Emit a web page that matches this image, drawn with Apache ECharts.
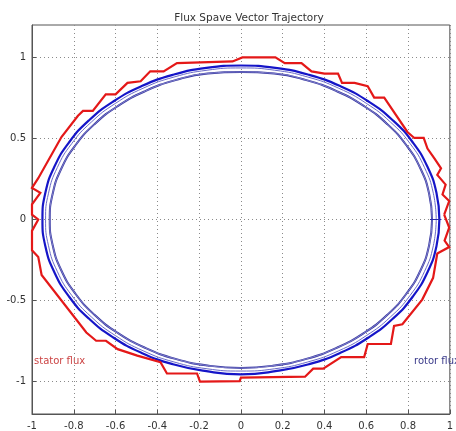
<!DOCTYPE html>
<html>
<head>
<meta charset="utf-8">
<script src="https://cdn.jsdelivr.net/npm/echarts@6/dist/echarts.min.js"></script>
<style>
html,body{margin:0;padding:0;background:#fff;}
#c{width:456px;height:431px;}
</style>
</head>
<body>
<div id="c"></div>
<script>
var titleText = 'Flux Spave Vector Trajectory';
var xTicks = [-1, -0.8, -0.6, -0.4, -0.2, 0, 0.2, 0.4, 0.6, 0.8, 1];
var yTicks = [-1, -0.5, 0, 0.5, 1];
var statorLabel = 'stator flux';
var rotorLabel = 'rotor flux';

var statorX = [0.973,0.997,0.965,0.98,0.94,0.958,0.926,0.893,0.875,0.83,0.797,0.686,0.638,0.607,0.544,0.484,0.465,0.40,0.338,0.29,0.21,0.165,0.007,-0.04,-0.306,-0.37,-0.434,-0.48,-0.543,-0.6,-0.647,-0.709,-0.756,-0.78,-0.859,-0.97,-1.0,-0.96,-1.0,-1.0,-0.97,-1.0,-1.0,-0.97,-0.954,-0.74,-0.693,-0.646,-0.59,-0.543,-0.496,-0.385,-0.354,-0.21,-0.196,-0.006,0.0,0.307,0.346,0.394,0.48,0.59,0.607,0.718,0.733,0.773,0.868,0.92,0.94,0.997,0.975,0.997,0.973];
var statorY = [0.03,0.114,0.154,0.215,0.275,0.316,0.377,0.438,0.503,0.503,0.54,0.752,0.752,0.822,0.843,0.843,0.9,0.9,0.914,0.965,0.965,1.0,1.0,0.975,0.965,0.914,0.914,0.853,0.843,0.772,0.772,0.67,0.67,0.64,0.509,0.255,0.195,0.164,0.093,0.03,0.0,-0.07,-0.19,-0.231,-0.342,-0.697,-0.748,-0.748,-0.80,-0.82,-0.84,-0.88,-0.95,-0.95,-1.0,-0.997,-0.975,-0.97,-0.92,-0.92,-0.849,-0.849,-0.768,-0.768,-0.657,-0.646,-0.494,-0.36,-0.21,-0.17,-0.13,-0.05,0.03];

var rotorOuterX = [0.95,0.936,0.893,0.823,0.728,0.611,0.475,0.325,0.165,0,-0.165,-0.325,-0.475,-0.611,-0.728,-0.823,-0.893,-0.936,-0.95,-0.936,-0.893,-0.823,-0.728,-0.611,-0.475,-0.325,-0.165,0,0.165,0.325,0.475,0.611,0.728,0.823,0.893,0.936,0.95];
var rotorOuterY = [0,0.165,0.325,0.475,0.611,0.728,0.823,0.893,0.936,0.95,0.936,0.893,0.823,0.728,0.611,0.475,0.325,0.165,0,-0.165,-0.325,-0.475,-0.611,-0.728,-0.823,-0.893,-0.936,-0.955,-0.936,-0.893,-0.823,-0.728,-0.611,-0.475,-0.325,-0.165,0];
var rotorMidX = [0.935,0.921,0.879,0.810,0.716,0.601,0.468,0.320,0.162,0,-0.162,-0.320,-0.468,-0.601,-0.716,-0.810,-0.879,-0.921,-0.935,-0.921,-0.879,-0.810,-0.716,-0.601,-0.468,-0.320,-0.162,0,0.162,0.320,0.468,0.601,0.716,0.810,0.879,0.921,0.935];
var rotorMidY = [0,0.162,0.320,0.468,0.601,0.716,0.810,0.879,0.921,0.935,0.921,0.879,0.810,0.716,0.601,0.468,0.320,0.162,0,-0.162,-0.320,-0.468,-0.601,-0.716,-0.810,-0.879,-0.921,-0.935,-0.921,-0.879,-0.810,-0.716,-0.601,-0.468,-0.320,-0.162,0];
var rotorInnerX = [0.915,0.901,0.860,0.792,0.701,0.588,0.458,0.313,0.159,0,-0.159,-0.313,-0.458,-0.588,-0.701,-0.792,-0.860,-0.901,-0.915,-0.901,-0.860,-0.792,-0.701,-0.588,-0.458,-0.313,-0.159,0,0.159,0.313,0.458,0.588,0.701,0.792,0.860,0.901,0.915];
var rotorInnerY = [0,0.159,0.313,0.458,0.588,0.701,0.792,0.860,0.901,0.91,0.901,0.860,0.792,0.701,0.588,0.458,0.313,0.159,0,-0.159,-0.313,-0.458,-0.588,-0.701,-0.792,-0.860,-0.901,-0.916,-0.901,-0.860,-0.792,-0.701,-0.588,-0.458,-0.313,-0.159,0];
var rotorStartX = [0.905, 0.96];
var rotorStartY = [0, 0];

function pairs(xs, ys) { return xs.map(function (x, i) { return [x, ys[i]]; }); }

var FONT = '"DejaVu Sans", "Liberation Sans", sans-serif';
var chart = echarts.init(document.getElementById('c'), null, {renderer: 'canvas'});
var gridLine = {show: true, lineStyle: {color: '#8a8a8a', type: [1, 3], width: 1}};
chart.setOption({
  animation: false,
  backgroundColor: '#ffffff',
  title: {
    text: titleText, left: 244, top: 8, textAlign: 'center',
    textStyle: {fontFamily: FONT, fontSize: 10.5, fontWeight: 'normal', color: '#333'}
  },
  grid: {left: 32, right: 1, top: 25, bottom: 12, show: true, borderColor: '#555', borderWidth: 1, backgroundColor: 'transparent'},
  xAxis: {
    type: 'value', min: -1, max: 1, interval: 0.2,
    axisLine: {onZero: false, lineStyle: {color: '#555'}},
    axisTick: {inside: true, length: 4, lineStyle: {color: '#555'}},
    splitLine: gridLine,
    axisLabel: {
      margin: 7, color: '#333', fontFamily: FONT, fontSize: 10,
      customValues: xTicks,
      formatter: function (v) { return String(Math.round(v * 10) / 10); }
    }
  },
  yAxis: {
    type: 'value', min: -1.2, max: 1.2,
    axisLine: {onZero: false, lineStyle: {color: '#555'}},
    axisTick: {inside: true, length: 4, lineStyle: {color: '#555'}, customValues: yTicks},
    splitLine: gridLine,
    axisLabel: {
      margin: 6, color: '#333', fontFamily: FONT, fontSize: 10,
      customValues: yTicks,
      formatter: function (v) { return String(Math.round(v * 10) / 10); }
    }
  },
  graphic: [
    {type: 'text', left: 34, top: 356, style: {text: statorLabel, fill: '#cc4444', font: '10px "DejaVu Sans"'}},
    {type: 'text', left: 414, top: 356, style: {text: rotorLabel, fill: '#3a3a8a', font: '10px "DejaVu Sans"'}}
  ],
  series: [
    {type: 'line', data: pairs(rotorInnerX, rotorInnerY), smooth: true, symbol: 'none', clip: true,
     lineStyle: {color: '#3535a0', width: 2}},
    {type: 'line', data: pairs(rotorInnerX, rotorInnerY), smooth: true, symbol: 'none', clip: true,
     lineStyle: {color: '#a0a0dc', width: 0.7}},
    {type: 'line', data: pairs(rotorMidX, rotorMidY), smooth: true, symbol: 'none', clip: true,
     lineStyle: {color: '#6a6ac8', width: 1}},
    {type: 'line', data: pairs(rotorOuterX, rotorOuterY), smooth: true, symbol: 'none', clip: true,
     lineStyle: {color: '#1515c8', width: 2.2}},
    {type: 'line', data: pairs(rotorStartX, rotorStartY), symbol: 'none', clip: true,
     lineStyle: {color: '#2a2aa8', width: 1}},
    {type: 'line', data: pairs(statorX, statorY), symbol: 'none', clip: true,
     lineStyle: {color: '#e41818', width: 2.2, join: 'miter'}}
  ]
});
</script>
</body>
</html>
